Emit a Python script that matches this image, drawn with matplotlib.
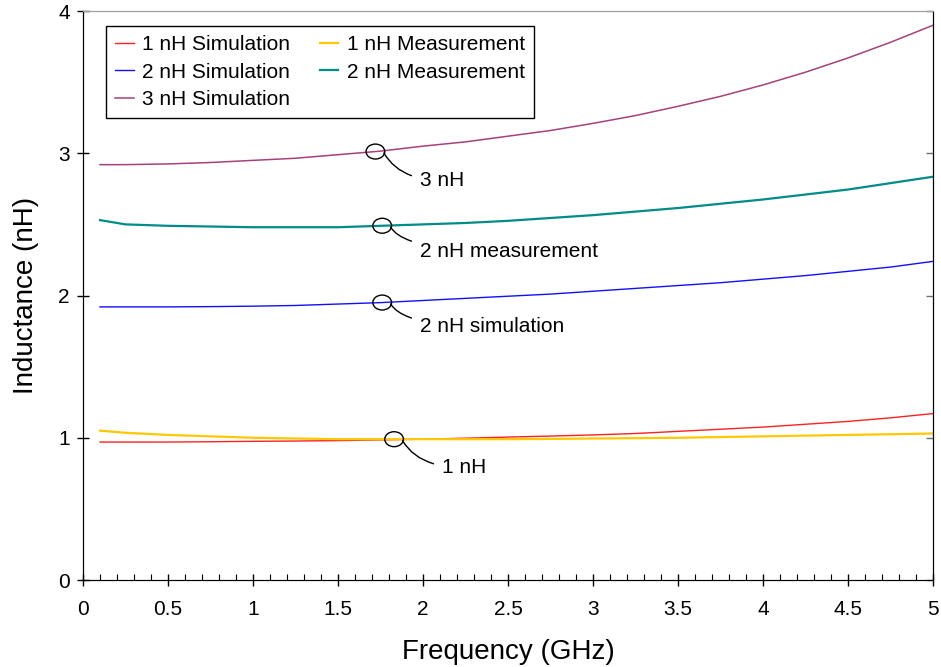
import numpy as np
import matplotlib
matplotlib.use("Agg")
import matplotlib.pyplot as plt
from matplotlib.patches import Ellipse

plt.rcParams['font.family'] = ['Liberation Sans', 'DejaVu Sans']

freq = [0.1, 0.25, 0.5, 0.75, 1.0, 1.25, 1.5, 1.75, 2.0, 2.25, 2.5,
        2.75, 3.0, 3.25, 3.5, 3.75, 4.0, 4.25, 4.5, 4.75, 5.0]
sim_1nh = [0.97, 0.97, 0.97, 0.972, 0.975, 0.977, 0.98, 0.985, 0.99, 0.997, 1.005,
           1.012, 1.02, 1.03, 1.045, 1.06, 1.075, 1.095, 1.115, 1.14, 1.17]
meas_1nh = [1.05, 1.035, 1.02, 1.01, 1.0, 0.995, 0.99, 0.99, 0.99, 0.99, 0.99,
            0.992, 0.995, 0.997, 1.0, 1.005, 1.01, 1.015, 1.02, 1.025, 1.03]
sim_2nh = [1.92, 1.92, 1.92, 1.922, 1.925, 1.93, 1.94, 1.95, 1.965, 1.98, 1.995,
           2.01, 2.03, 2.05, 2.07, 2.09, 2.115, 2.14, 2.17, 2.20, 2.24]
meas_2nh = [2.53, 2.50, 2.49, 2.485, 2.48, 2.48, 2.48, 2.49, 2.50, 2.51, 2.525,
            2.545, 2.565, 2.59, 2.615, 2.645, 2.675, 2.71, 2.745, 2.79, 2.835]
sim_3nh = [2.92, 2.92, 2.925, 2.935, 2.95, 2.965, 2.99, 3.015, 3.05, 3.08, 3.12,
           3.16, 3.21, 3.265, 3.33, 3.40, 3.48, 3.57, 3.67, 3.78, 3.90]

# annotation spots: (freq of circle, curve, label, label x, label y)
notes = [
    (1.72, sim_3nh, "3 nH", 1.98, 2.81),
    (1.76, meas_2nh, "2 nH measurement", 1.98, 2.31),
    (1.76, sim_2nh, "2 nH simulation", 1.98, 1.78),
    (1.83, meas_1nh, "1 nH", 2.11, 0.79),
]

fig = plt.figure(figsize=(9.41, 6.67), dpi=100)
ax = fig.add_axes([0.0882, 0.1304, 0.9033, 0.8531])

ax.plot(freq, sim_1nh, color='#FF2020', lw=1.0, label='1 nH Simulation')
ax.plot(freq, sim_2nh, color='#1010FF', lw=1.0, label='2 nH Simulation')
ax.plot(freq, sim_3nh, color='#A8407C', lw=1.1, label='3 nH Simulation')
ax.plot(freq, meas_1nh, color='#FFC800', lw=1.6, label='1 nH Measurement')
ax.plot(freq, meas_2nh, color='#008C88', lw=1.6, label='2 nH Measurement')

for fx, curve, txt, tx, ty in notes:
    fy = np.interp(fx, freq, curve)
    ax.add_patch(Ellipse((fx, fy), 0.11, 0.105, fill=False, ec='black', lw=1.0, zorder=5))
    ax.annotate(txt, xy=(fx + 0.05, fy - 0.01), xytext=(tx, ty),
                fontsize=15, va='center', ha='left',
                arrowprops=dict(arrowstyle='-', color='black', lw=1.0,
                                shrinkA=4, shrinkB=0,
                                connectionstyle='angle3,angleA=0,angleB=-60'))

ax.set_xlim(0, 5)
ax.set_ylim(0, 4)
ax.set_xticks(np.arange(0, 5.01, 0.5))
ax.set_xticklabels(['0', '0.5', '1', '1.5', '2', '2.5', '3', '3.5', '4', '4.5', '5'])
ax.set_xticks(np.arange(0, 5.01, 0.1), minor=True)
ax.set_yticks([0, 1, 2, 3, 4])
ax.tick_params(axis='x', which='major', direction='inout', length=9, width=1, labelsize=15, pad=10)
ax.tick_params(axis='x', which='minor', direction='in', length=4, width=0.8)
ax.tick_params(axis='y', which='major', direction='inout', length=9, width=1, labelsize=15, pad=5)

# right side ticks point inward only
rax = ax.twinx()
rax.set_ylim(0, 4)
rax.set_yticks([0, 1, 2, 3, 4])
rax.tick_params(axis='y', direction='in', length=5, width=1, color='#707070', labelright=False)

for a in (ax, rax):
    a.spines['top'].set_color('#A0A0A0')
    for s in ['left', 'bottom', 'right']:
        a.spines[s].set_color('black')

ax.set_xlabel('Frequency (GHz)', fontsize=20, labelpad=14)
ax.set_ylabel('Inductance (nH)', fontsize=20, labelpad=14)

leg = ax.legend(ncol=2, loc='upper left', bbox_to_anchor=(0.027, 0.974),
                borderaxespad=0, fontsize=15, handlelength=0.9, handletextpad=0.4,
                columnspacing=1.4, labelspacing=0.4, borderpad=0.45,
                fancybox=False, framealpha=1, edgecolor='black')
leg.get_frame().set_linewidth(1.0)

fig.savefig('out.png', dpi=100)
